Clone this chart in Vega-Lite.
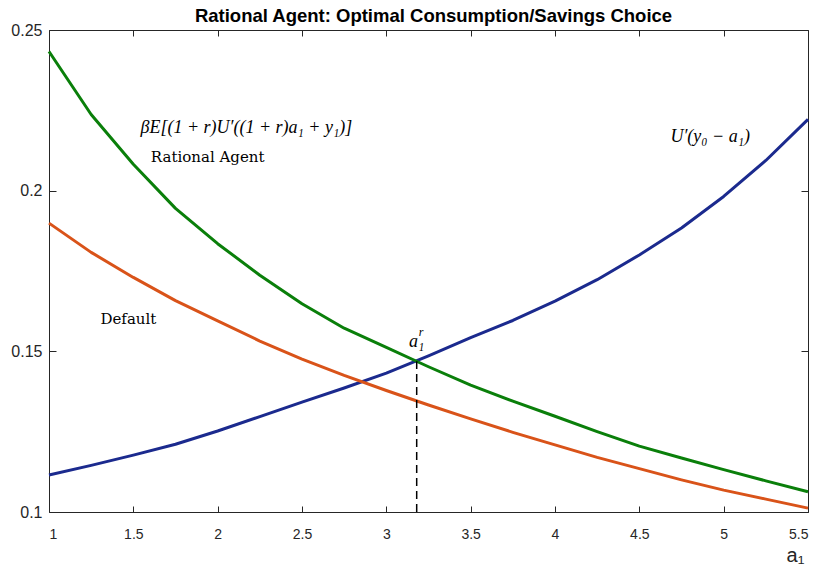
{
  "$schema": "https://vega.github.io/schema/vega-lite/v6.json",
  "autosize": {"type": "none"},
  "padding": {"left": 49, "top": 30, "right": 15, "bottom": 57},
  "width": 759,
  "height": 482,
  "background": "white",
  "title": {"text": "Rational Agent: Optimal Consumption/Savings Choice", "font": "Liberation Sans", "fontSize": 18.5, "fontWeight": "bold", "color": "#000000", "offset": -3, "dx": 5, "anchor": "middle"},
  "config": {
    "view": {"stroke": "#262626", "strokeWidth": 1},
    "axis": {"grid": false, "domain": false, "tickColor": "#262626", "tickSize": -6, "labelFont": "Liberation Sans", "labelFontSize": 15, "labelColor": "#262626", "titleFont": "Liberation Sans", "titleColor": "#262626", "titleFontWeight": "normal"}
  },
  "datasets": {
    "curves": [
      {"x": 1.0, "y": 0.1115, "s": "U"}, {"x": 1.25, "y": 0.1145, "s": "U"}, {"x": 1.5, "y": 0.1177, "s": "U"}, {"x": 1.75, "y": 0.1211, "s": "U"},
      {"x": 2.0, "y": 0.1252, "s": "U"}, {"x": 2.25, "y": 0.1297, "s": "U"}, {"x": 2.5, "y": 0.1342, "s": "U"}, {"x": 2.75, "y": 0.1386, "s": "U"},
      {"x": 3.0, "y": 0.1432, "s": "U"}, {"x": 3.25, "y": 0.1486, "s": "U"}, {"x": 3.5, "y": 0.1543, "s": "U"}, {"x": 3.75, "y": 0.1596, "s": "U"},
      {"x": 4.0, "y": 0.1656, "s": "U"}, {"x": 4.25, "y": 0.1723, "s": "U"}, {"x": 4.5, "y": 0.1800, "s": "U"}, {"x": 4.75, "y": 0.1884, "s": "U"},
      {"x": 5.0, "y": 0.1982, "s": "U"}, {"x": 5.25, "y": 0.2094, "s": "U"}, {"x": 5.5, "y": 0.2222, "s": "U"},
      {"x": 1.0, "y": 0.2433, "s": "R"}, {"x": 1.25, "y": 0.2237, "s": "R"}, {"x": 1.5, "y": 0.2082, "s": "R"}, {"x": 1.75, "y": 0.1945, "s": "R"},
      {"x": 2.0, "y": 0.1835, "s": "R"}, {"x": 2.25, "y": 0.1737, "s": "R"}, {"x": 2.5, "y": 0.1648, "s": "R"}, {"x": 2.75, "y": 0.1572, "s": "R"},
      {"x": 3.0, "y": 0.1512, "s": "R"}, {"x": 3.25, "y": 0.1452, "s": "R"}, {"x": 3.5, "y": 0.1395, "s": "R"}, {"x": 3.75, "y": 0.1345, "s": "R"},
      {"x": 4.0, "y": 0.1298, "s": "R"}, {"x": 4.25, "y": 0.1250, "s": "R"}, {"x": 4.5, "y": 0.1205, "s": "R"}, {"x": 4.75, "y": 0.1168, "s": "R"},
      {"x": 5.0, "y": 0.1132, "s": "R"}, {"x": 5.25, "y": 0.1097, "s": "R"}, {"x": 5.5, "y": 0.1063, "s": "R"},
      {"x": 1.0, "y": 0.1899, "s": "D"}, {"x": 1.25, "y": 0.1808, "s": "D"}, {"x": 1.5, "y": 0.1730, "s": "D"}, {"x": 1.75, "y": 0.1658, "s": "D"},
      {"x": 2.0, "y": 0.1595, "s": "D"}, {"x": 2.25, "y": 0.1532, "s": "D"}, {"x": 2.5, "y": 0.1476, "s": "D"}, {"x": 2.75, "y": 0.1425, "s": "D"},
      {"x": 3.0, "y": 0.1378, "s": "D"}, {"x": 3.25, "y": 0.1333, "s": "D"}, {"x": 3.5, "y": 0.1290, "s": "D"}, {"x": 3.75, "y": 0.1248, "s": "D"},
      {"x": 4.0, "y": 0.1209, "s": "D"}, {"x": 4.25, "y": 0.1170, "s": "D"}, {"x": 4.5, "y": 0.1135, "s": "D"}, {"x": 4.75, "y": 0.1100, "s": "D"},
      {"x": 5.0, "y": 0.1068, "s": "D"}, {"x": 5.25, "y": 0.1040, "s": "D"}, {"x": 5.5, "y": 0.1012, "s": "D"}
    ],
    "marker": [{"x": 3.18, "y": 0.1, "y2": 0.1469}],
    "mathLabels": [
      {"x": 2.17, "y": 0.2196, "label": "βE[(1 + r)U′((1 + r)a₁ + y₁)]"},
      {"x": 4.92, "y": 0.2167, "label": "U′(y₀ − a₁)"},
      {"x": 3.18, "y": 0.1528, "label": "a₁"}
    ],
    "textLabels": [
      {"x": 1.604, "y": 0.2106, "label": "Rational Agent"},
      {"x": 1.305, "y": 0.1600, "label": "Default"}
    ],
    "supLabels": [{"x": 3.18, "y": 0.1528, "label": "r"}]
  },
  "layer": [
    {
      "data": {"name": "curves"},
      "mark": {"type": "line", "strokeWidth": 3, "strokeJoin": "round"},
      "encoding": {
        "x": {"field": "x", "type": "quantitative", "scale": {"domain": [1, 5.5], "nice": false, "zero": false},
              "axis": {"orient": "bottom", "title": "a₁", "values": [1, 1.5, 2, 2.5, 3, 3.5, 4, 4.5, 5, 5.5], "format": "~g", "labelPadding": 21, "labelFontSize": 14, "titleFontSize": 20, "titleX": 746, "titleY": 43, "titleAlign": "center", "titleBaseline": "middle"}},
        "y": {"field": "y", "type": "quantitative", "scale": {"domain": [0.1, 0.25], "nice": false, "zero": false},
              "axis": {"orient": "left", "title": null, "values": [0.1, 0.15, 0.2, 0.25], "format": "~g", "labelPadding": 14, "labelFontSize": 16, "tickSize": -7}},
        "color": {"field": "s", "type": "nominal", "scale": {"domain": ["U", "R", "D"], "range": ["#1b2a8e", "#0a7f0a", "#d95319"]}, "legend": null},
        "order": {"field": "x", "type": "quantitative"}
      }
    },
    {
      "data": {"name": "marker"},
      "mark": {"type": "rule", "color": "#000000", "strokeWidth": 1.5, "strokeDash": [8, 5]},
      "encoding": {
        "x": {"field": "x", "type": "quantitative", "axis": {"orient": "top", "title": null, "labels": false, "values": [1, 1.5, 2, 2.5, 3, 3.5, 4, 4.5, 5, 5.5]}},
        "y": {"field": "y", "type": "quantitative", "axis": {"orient": "right", "title": null, "labels": false, "values": [0.1, 0.15, 0.2, 0.25], "tickSize": -7}},
        "y2": {"field": "y2"}
      }
    },
    {
      "data": {"name": "mathLabels"},
      "mark": {"type": "text", "font": "Liberation Serif", "fontStyle": "italic", "fontSize": 18, "color": "#000000", "align": "center", "baseline": "middle"},
      "encoding": {
        "x": {"field": "x", "type": "quantitative", "axis": null},
        "y": {"field": "y", "type": "quantitative", "axis": null},
        "text": {"field": "label"}
      }
    },
    {
      "data": {"name": "supLabels"},
      "mark": {"type": "text", "font": "Liberation Serif", "fontStyle": "italic", "fontSize": 12, "color": "#000000", "align": "left", "baseline": "middle", "dx": 2, "dy": -10},
      "encoding": {
        "x": {"field": "x", "type": "quantitative", "axis": null},
        "y": {"field": "y", "type": "quantitative", "axis": null},
        "text": {"field": "label"}
      }
    },
    {
      "data": {"name": "textLabels"},
      "mark": {"type": "text", "font": "DejaVu Serif", "fontSize": 15, "color": "#000000", "align": "left", "baseline": "middle"},
      "encoding": {
        "x": {"field": "x", "type": "quantitative", "axis": null},
        "y": {"field": "y", "type": "quantitative", "axis": null},
        "text": {"field": "label"}
      }
    }
  ],
  "resolve": {"axis": {"x": "independent", "y": "independent"}}
}
